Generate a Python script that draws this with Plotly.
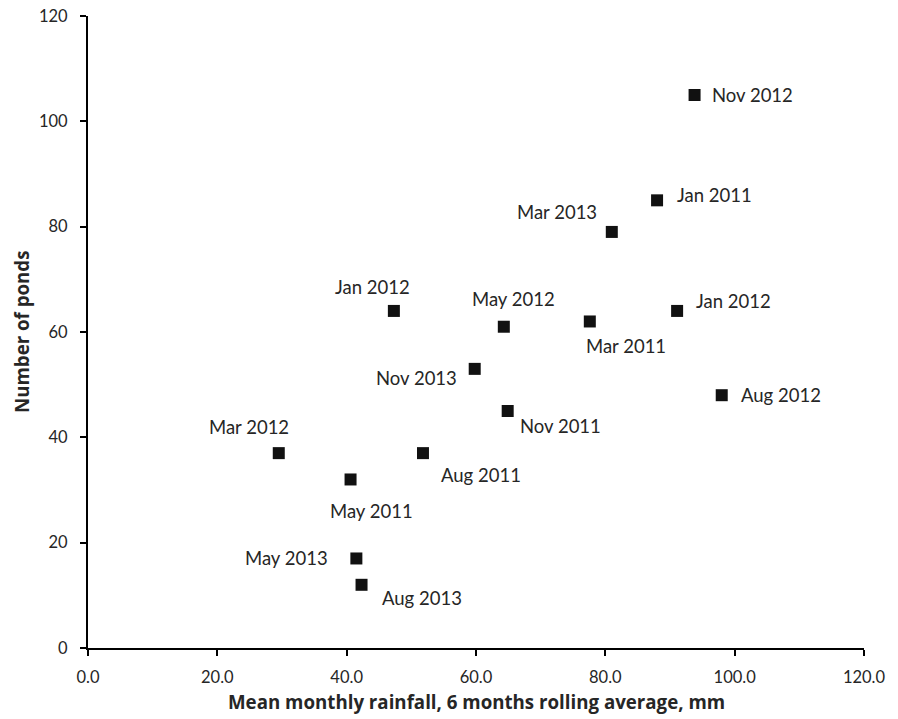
import plotly.graph_objects as go

# Survey periods, rainfall (6-month rolling mean, mm) and pond counts
periods = ["Nov 2012", "Jan 2011", "Mar 2013", "Jan 2012", "Mar 2011",
           "May 2012", "Jan 2012", "Nov 2013", "Nov 2011", "Aug 2012",
           "Mar 2012", "Aug 2011", "May 2011", "May 2013", "Aug 2013"]
rainfall = [93.8, 88.0, 81.0, 91.1, 77.6,
            64.3, 47.3, 59.8, 64.9, 98.0,
            29.5, 51.8, 40.6, 41.5, 42.3]
ponds = [105, 85, 79, 64, 62,
         61, 64, 53, 45, 48,
         37, 37, 32, 17, 12]

# Pixel offsets of each label from its marker (dx right, dy up)
label_dx = [58, 57, -55, 56, 36, 10, -21, -58, 53, 59, -30, 58, 21, -70, 60]
label_dy = [0, 5, 20, 10, -25, 28, 24, -9, -15, 0, 26, -22, -32, 0, -13]

x_ticks = [0, 20, 40, 60, 80, 100, 120]
y_ticks = [0, 20, 40, 60, 80, 100, 120]

text_color = "#262626"
font_family = "Lato, 'Open Sans', sans-serif"
title_family = "'Open Sans', Lato, sans-serif"

fig = go.Figure()
fig.add_trace(go.Scatter(
    x=rainfall, y=ponds, mode="markers",
    marker=dict(symbol="square", size=12, color="#111111",
                line=dict(width=0)),
    hoverinfo="skip", showlegend=False, cliponaxis=False,
))

for name, xv, yv, dx, dy in zip(periods, rainfall, ponds, label_dx, label_dy):
    fig.add_annotation(
        x=xv, y=yv, xref="x", yref="y", text=name, showarrow=False,
        xshift=dx, yshift=dy, xanchor="center", yanchor="middle",
        font=dict(family=font_family, size=18.5, color=text_color),
    )

# Axis titles, placed relative to the plot area
fig.add_annotation(
    x=0.5, y=0, xref="paper", yref="paper", yshift=-53,
    text="<b>Mean monthly rainfall, 6 months rolling average, mm</b>",
    showarrow=False, xanchor="center", yanchor="middle", borderpad=0,
    font=dict(family=title_family, size=18.7, color=text_color),
)
fig.add_annotation(
    x=0, y=0.5, xref="paper", yref="paper", xshift=-67,
    text="<b>Number of ponds</b>", textangle=-90,
    showarrow=False, xanchor="center", yanchor="middle",
    font=dict(family=title_family, size=18.7, color=text_color),
)

axis_common = dict(
    showgrid=False, zeroline=False, showline=True,
    linecolor="#000000", linewidth=2,
    ticks="outside", ticklen=6, tickwidth=2, tickcolor="#000000",
    tickfont=dict(family=font_family, size=16.5, color=text_color),
    range=[0, 120], fixedrange=True, automargin=False,
)

fig.update_layout(
    width=898, height=719,
    margin=dict(l=88, r=34, t=16, b=71),
    paper_bgcolor="white", plot_bgcolor="white",
    font=dict(family=font_family, color=text_color),
    xaxis=dict(**axis_common, tickvals=x_ticks,
               ticktext=[f"{v:.1f}" for v in x_ticks],
               ticklabelstandoff=7),
    yaxis=dict(**axis_common, tickvals=y_ticks,
               ticktext=[str(v) for v in y_ticks],
               ticklabelstandoff=9),
)

fig.write_html("out.html")
